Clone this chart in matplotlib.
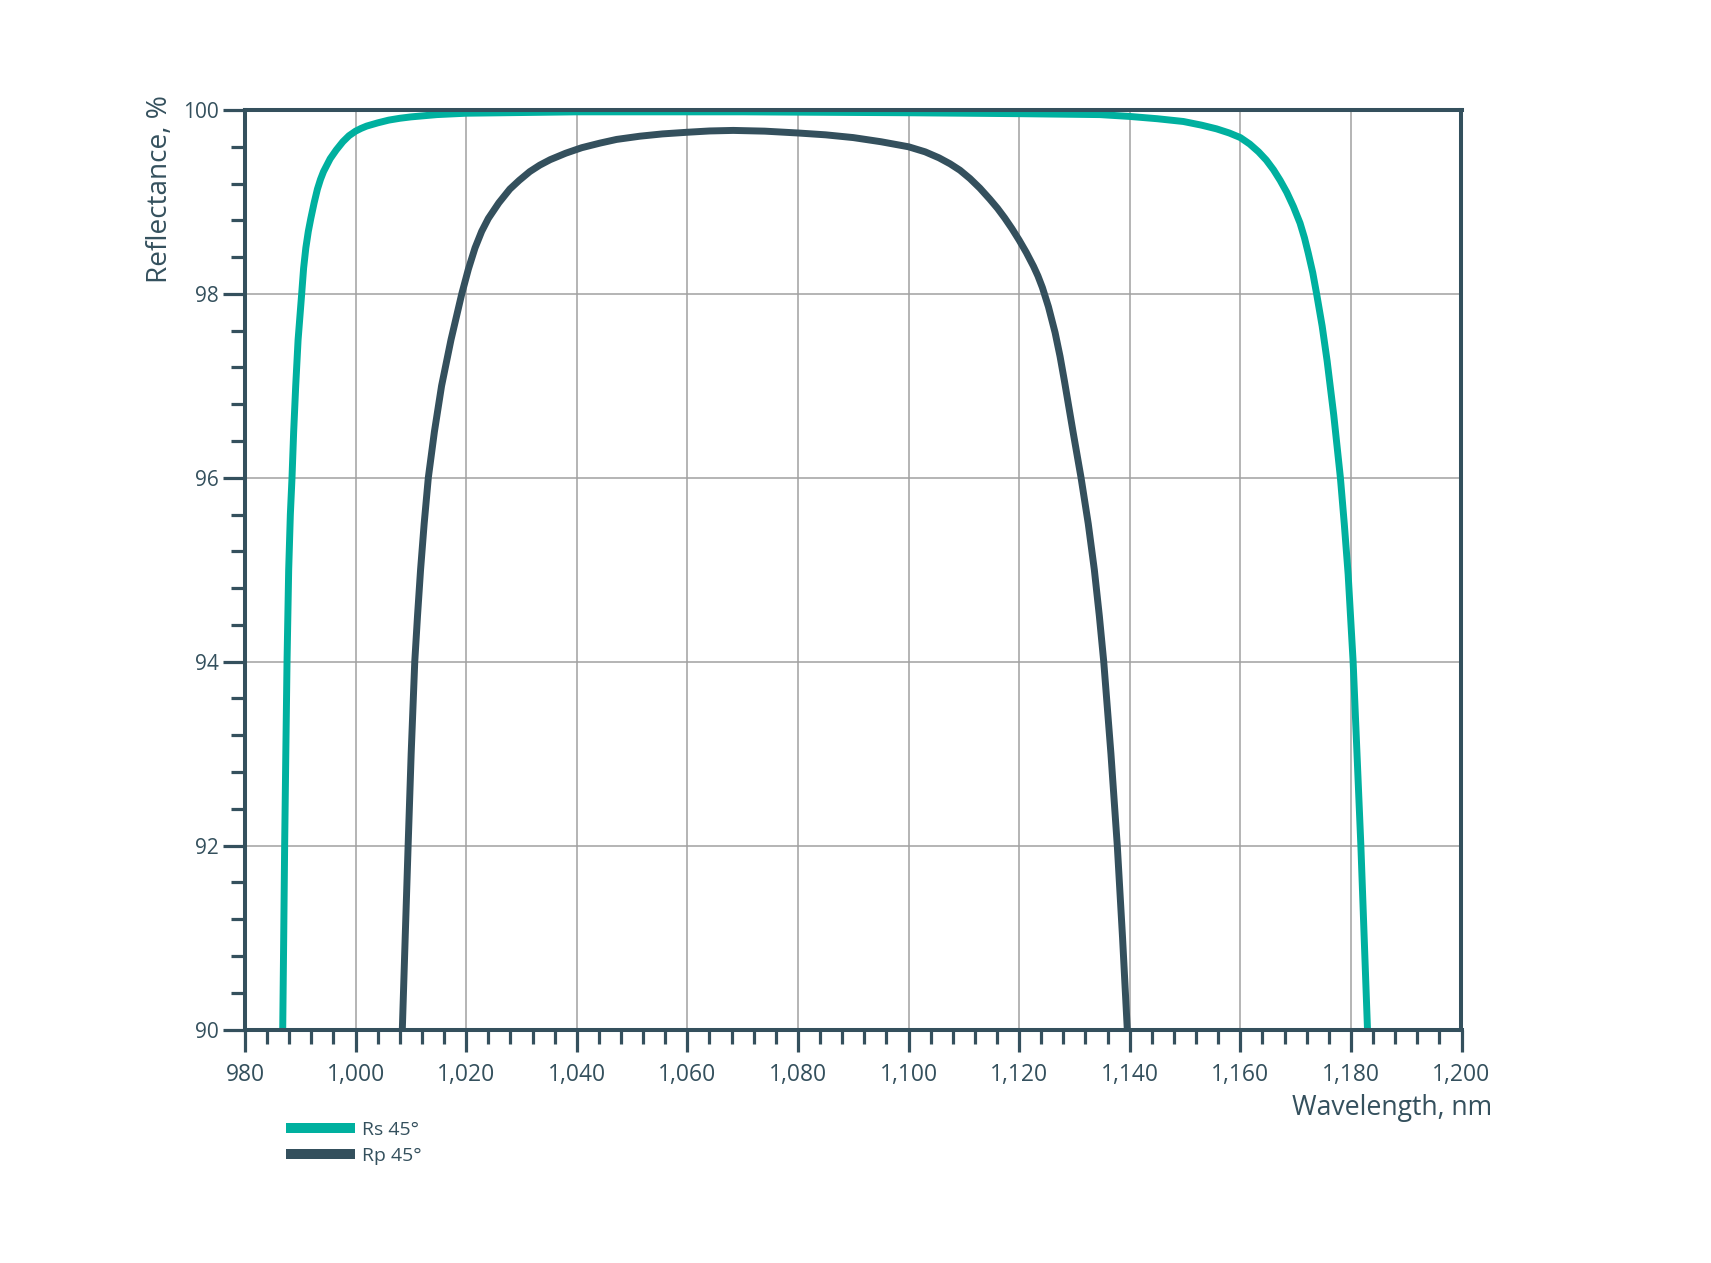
import matplotlib
matplotlib.use("Agg")
import matplotlib.pyplot as plt
from matplotlib.ticker import MultipleLocator, FuncFormatter
from matplotlib.lines import Line2D

plt.rcParams['font.family'] = ['Open Sans', 'DejaVu Sans']

# ---- data ----
rs_wl = [986.82, 987.0, 987.17, 987.38, 987.6, 987.9, 988.2, 988.5, 988.8, 989.17,
         989.6, 990.25, 990.6, 991.0, 991.45, 991.9, 992.5, 993.1, 993.65, 994.2,
         995.4, 996.5, 997.7, 998.8, 1000.0, 1001.0, 1002.0, 1004.0, 1006.0, 1008.0,
         1010.0, 1014.7, 1020.0, 1040.0, 1070.0, 1100.0, 1120.0, 1134.6, 1140.0, 1145.0,
         1149.7, 1153.0, 1155.7, 1158.0, 1160.0, 1161.7, 1163.3, 1164.7, 1166.0, 1167.2,
         1168.4, 1169.6, 1170.8, 1171.6, 1172.3, 1173.1, 1173.8, 1174.8, 1175.7, 1176.9,
         1178.1, 1178.8, 1179.5, 1180.4, 1181.1, 1181.8, 1182.4, 1183.0]
rs_val = [90.0, 91.0, 92.0, 93.0, 94.0, 95.0, 95.6, 96.0, 96.5, 97.0,
          97.5, 98.0, 98.28, 98.5, 98.68, 98.82, 98.99, 99.14, 99.245, 99.33,
          99.47, 99.565, 99.655, 99.72, 99.77, 99.80, 99.825, 99.86, 99.89, 99.91,
          99.925, 99.95, 99.965, 99.98, 99.98, 99.97, 99.96, 99.95, 99.93, 99.905,
          99.875, 99.835, 99.795, 99.75, 99.70, 99.63, 99.545, 99.455, 99.35, 99.235,
          99.105, 98.95, 98.77, 98.61, 98.44, 98.23, 98.0, 97.65, 97.27, 96.68,
          96.0, 95.5, 94.95, 94.0, 93.0, 92.0, 91.0, 90.0]

rp_wl = [1008.45, 1008.97, 1009.5, 1010.05, 1010.7, 1011.2, 1011.75, 1012.4, 1013.15, 1014.25,
         1015.55, 1017.25, 1019.2, 1020.4, 1021.6, 1022.8, 1024.0, 1025.9, 1027.9, 1029.6,
         1031.5, 1033.3, 1035.2, 1038.0, 1040.9, 1044.2, 1047.2, 1051.4, 1055.5, 1060.0,
         1064.0, 1068.3, 1074.0, 1080.0, 1085.0, 1090.0, 1095.0, 1100.0, 1103.0, 1105.5,
         1107.5, 1109.3, 1111.1, 1112.9, 1114.7, 1116.1, 1117.4, 1118.7, 1120.0, 1121.3,
         1122.6, 1123.4, 1124.2, 1125.3, 1126.5, 1127.4, 1128.2, 1129.75, 1131.2, 1132.5,
         1133.6, 1134.5, 1135.3, 1136.6, 1137.75, 1138.7, 1139.56]
rp_val = [90.0, 91.0, 92.0, 93.0, 94.0, 94.5, 95.0, 95.5, 96.0, 96.5,
          97.0, 97.5, 98.0, 98.27, 98.5, 98.68, 98.82, 98.99, 99.14, 99.235,
          99.33, 99.40, 99.46, 99.53, 99.59, 99.64, 99.68, 99.715, 99.74, 99.758,
          99.772, 99.778, 99.77, 99.75, 99.73, 99.70, 99.655, 99.60, 99.545, 99.48,
          99.415, 99.345, 99.255, 99.15, 99.03, 98.93, 98.825, 98.71, 98.585, 98.45,
          98.30, 98.195, 98.07, 97.86, 97.58, 97.32, 97.05, 96.5, 96.0, 95.5,
          95.0, 94.5, 94.0, 93.0, 92.0, 91.0, 90.0]

series_labels = ["Rs 45°", "Rp 45°"]
x_label = "Wavelength, nm"
y_label = "Reflectance, %"

TEAL = "#00b09f"
DARK = "#34505d"
GRID = "#a0a0a0"

W, H = 1711, 1263
fig = plt.figure(figsize=(W / 100, H / 100), dpi=100)
ax = fig.add_axes([245 / W, 1 - 1029.5 / H, (1461.5 - 245) / W, (1029.5 - 110) / H])

ax.plot(rs_wl, rs_val, color=TEAL, lw=5.0, solid_capstyle='butt',
        solid_joinstyle='round', zorder=3)
ax.plot(rp_wl, rp_val, color=DARK, lw=5.0, solid_capstyle='butt',
        solid_joinstyle='round', zorder=3)

ax.set_xlim(980, 1200)
ax.set_ylim(90, 100)

ax.xaxis.set_major_locator(MultipleLocator(20))
ax.xaxis.set_minor_locator(MultipleLocator(4))
ax.yaxis.set_major_locator(MultipleLocator(2))
ax.yaxis.set_minor_locator(MultipleLocator(0.4))
ax.xaxis.set_major_formatter(FuncFormatter(lambda v, p: f"{v:,.0f}"))
ax.yaxis.set_major_formatter(FuncFormatter(lambda v, p: f"{v:.0f}"))

ax.grid(True, which='major', color=GRID, lw=1.1, zorder=1)
ax.set_axisbelow(True)

for s in ax.spines.values():
    s.set_color(DARK)
    s.set_linewidth(2.9)
    s.set_zorder(4)

ax.tick_params(axis='both', which='major', direction='out', length=16, width=2.3,
               color=DARK, labelcolor=DARK)
ax.tick_params(axis='both', which='minor', direction='out', length=10, width=2.3,
               color=DARK)
ax.tick_params(axis='x', which='major', labelsize=16.5, pad=8)
ax.tick_params(axis='y', which='major', labelsize=15, pad=3)

fig.text(1492 / W, 1 - 1115 / H, x_label, ha='right', va='baseline',
         fontsize=19.2, color=DARK)
fig.text(160 / W, 1 - 95 / H, y_label, ha='center', va='top', rotation=90,
         fontsize=20.2, color=DARK)

handles = [Line2D([], [], color=TEAL, lw=7.2, solid_capstyle='butt'),
           Line2D([], [], color=DARK, lw=7.2, solid_capstyle='butt')]
leg = ax.legend(handles, series_labels, loc='upper left',
                bbox_to_anchor=(286 / W, 1 - 1121 / H), bbox_transform=fig.transFigure,
                frameon=False, fontsize=14, handlelength=3.55, handletextpad=0.35,
                labelspacing=0.4, borderpad=0, borderaxespad=0)
for t in leg.get_texts():
    t.set_color(DARK)

fig.savefig("out.png", dpi=100, facecolor='white')
